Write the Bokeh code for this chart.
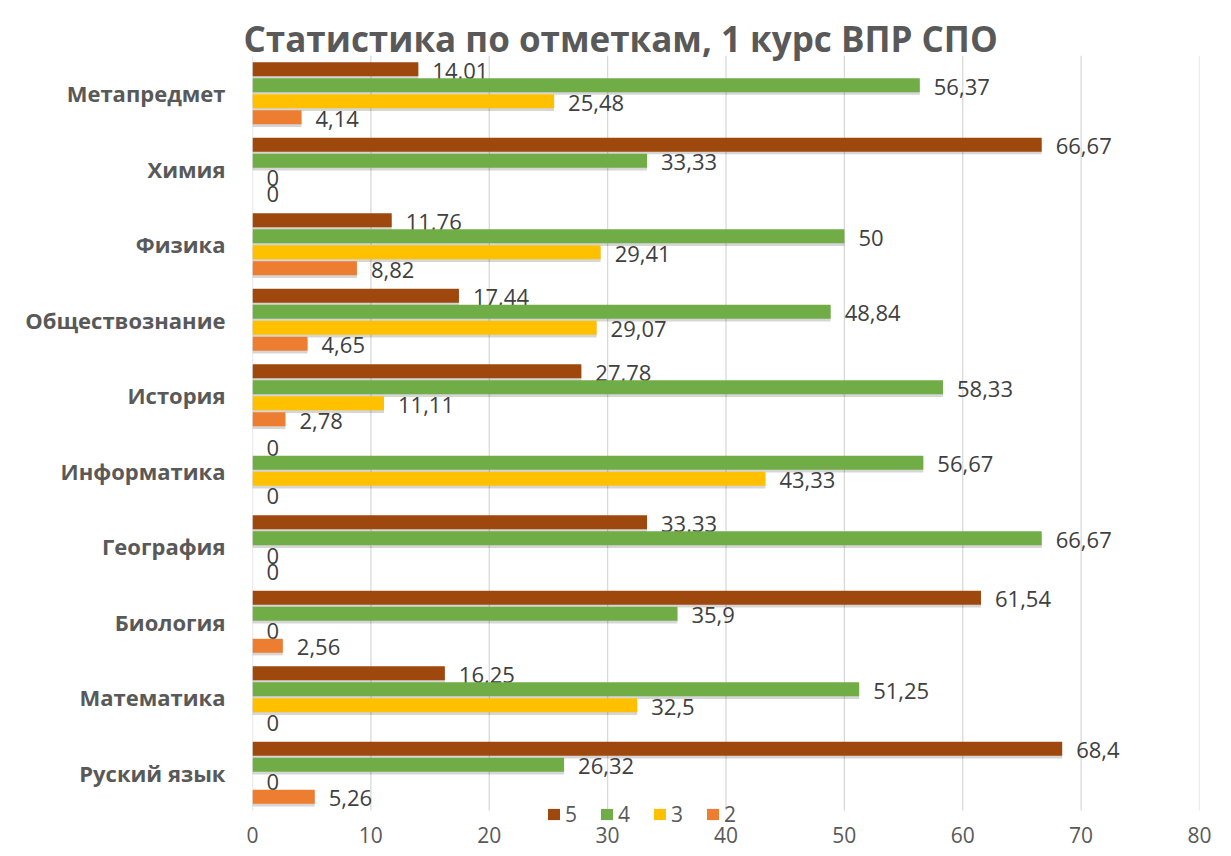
from bokeh.plotting import figure
from bokeh.models import Range1d, Legend, LegendItem, Title, FixedTicker
from bokeh.transform import dodge
from bokeh.core.properties import value
from bokeh.embed import file_html
from bokeh.resources import INLINE
from bokeh.models import ColumnDataSource

categories = ["Руский язык", "Математика", "Биология", "География", "Информатика",
              "История", "Обществознание", "Физика", "Химия", "Метапредмет"]
grade5 = [68.4, 16.25, 61.54, 33.33, 0, 27.78, 17.44, 11.76, 66.67, 14.01]
grade4 = [26.32, 51.25, 35.9, 66.67, 56.67, 58.33, 48.84, 50, 33.33, 56.37]
grade3 = [0, 32.5, 0, 0, 43.33, 11.11, 29.07, 29.41, 0, 25.48]
grade2 = [5.26, 0, 2.56, 0, 0, 2.78, 4.65, 8.82, 0, 4.14]
series_names = ["5", "4", "3", "2"]
x_ticks = [0, 10, 20, 30, 40, 50, 60, 70, 80]
title_text = "Статистика по отметкам, 1 курс ВПР СПО"

colors = ["#9E480E", "#70AD47", "#FFC000", "#ED7D31"]
offsets = [0.318, 0.106, -0.106, -0.318]
FONT = "Open Sans"


def fmt(v):
    return f"{v:g}".replace(".", ",")


n = len(categories)
centers = [i + 0.5 for i in range(n)]
data = {"cat": categories, "pos": centers}
for name, vals in zip(series_names, [grade5, grade4, grade3, grade2]):
    data["v" + name] = vals
    data["l" + name] = [fmt(v) for v in vals]
src = ColumnDataSource(data)

p = figure(y_range=Range1d(-0.344, n), x_range=Range1d(0, 80), width=1231, height=856,
           output_backend="svg", toolbar_location=None,
           min_border_left=252, min_border_right=32, min_border_top=55,
           min_border_bottom=20, title=None)
p.outline_line_color = None
p.background_fill_color = "white"
p.border_fill_color = "white"

p.add_layout(Title(text=title_text, align="left", offset=-9,
                   text_font=FONT, text_font_size="35px", text_font_style="bold",
                   text_color="#595959", standoff=-12), "above")

# vertical grid lines spanning only the category area
p.xgrid.grid_line_color = None
p.ygrid.grid_line_color = None
p.segment(x0=x_ticks, x1=x_ticks, y0=[0] * len(x_ticks), y1=[n] * len(x_ticks),
          line_color="#d9d9d9", line_width=1.3)

p.xaxis.ticker = FixedTicker(ticks=x_ticks)
p.xaxis.axis_line_color = None
p.xaxis.major_tick_line_color = None
p.xaxis.minor_tick_line_color = None
p.xaxis.major_tick_out = 0
p.xaxis.major_tick_in = 0
p.xaxis.major_label_standoff = -10
p.xaxis.major_label_text_font = FONT
p.xaxis.major_label_text_font_size = "21px"
p.xaxis.major_label_text_color = "#595959"

p.yaxis.ticker = FixedTicker(ticks=centers)
p.yaxis.major_label_overrides = {c: name for c, name in zip(centers, categories)}
p.yaxis.axis_line_color = None
p.yaxis.major_tick_line_color = None
p.yaxis.minor_tick_line_color = None
p.yaxis.major_tick_out = 0
p.yaxis.major_tick_in = 0
p.yaxis.major_label_standoff = 27
p.yaxis.major_label_text_font = FONT
p.yaxis.major_label_text_font_size = "22px"
p.yaxis.major_label_text_font_style = "bold"
p.yaxis.major_label_text_color = "#595959"

items = []
for name, col, off in zip(series_names, colors, offsets):
    # soft drop shadow
    p.hbar(y=dodge("pos", off - 0.035), left=0, right="v" + name,
           height=0.185, source=src, fill_color="#000000", fill_alpha=0.16,
           line_color=None)
for name, col, off in zip(series_names, colors, offsets):
    r = p.hbar(y=dodge("pos", off), left=0, right="v" + name,
               height=0.185, source=src, fill_color=col, line_color=None)
    items.append(LegendItem(label=name, renderers=[r]))
    p.text(x="v" + name, y=dodge("pos", off - 0.02), text="l" + name,
           source=src, x_offset=14, text_baseline="middle", text_align="left",
           text_font=value(FONT), text_font_size="22px", text_color="#404040")

legend = Legend(items=items, orientation="horizontal", location=(294, 8),
                glyph_width=15, glyph_height=14, label_standoff=4, spacing=14,
                padding=0, margin=0, label_text_font=FONT,
                label_text_font_size="21px", label_text_color="#595959",
                background_fill_alpha=0, border_line_color=None)
p.add_layout(legend, "center")

open("out.html", "w").write(file_html(p, INLINE))
